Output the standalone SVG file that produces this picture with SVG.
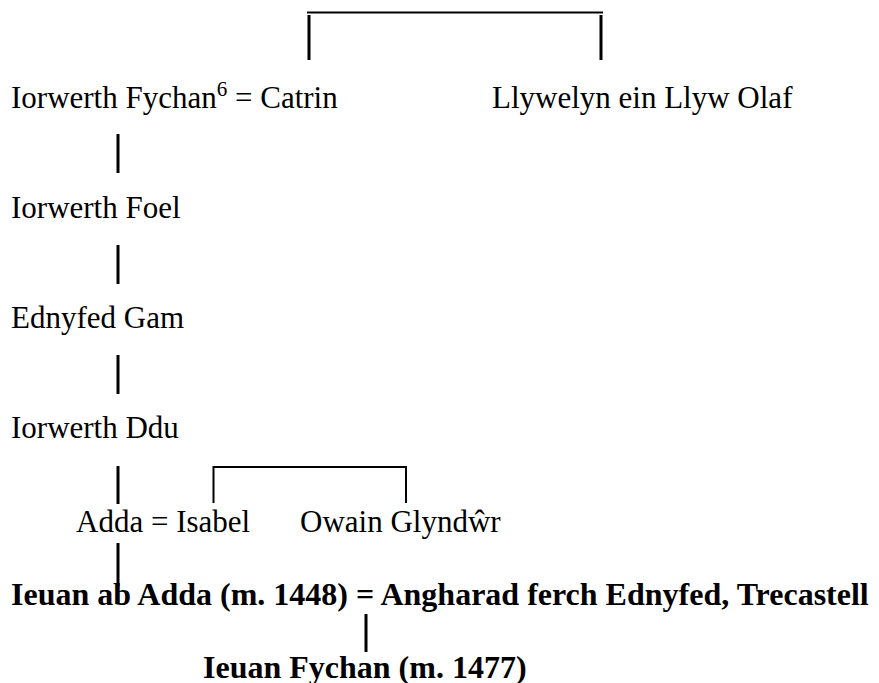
<svg xmlns="http://www.w3.org/2000/svg" width="879" height="683" viewBox="0 0 879 683">
<style>
text{font-family:"Liberation Serif","Times New Roman",serif;fill:#000}
.r{font-size:31px}
.b{font-size:32px;font-weight:bold}
.sup{font-size:21px}
.v{stroke:#000;stroke-width:3;fill:none}
.h{stroke:#000;stroke-width:2;fill:none}
</style>
<rect width="879" height="683" fill="#fff"/>
<g id="connectors">
<line class="h" x1="307" y1="12.5" x2="603" y2="12.5"/>
<line class="v" x1="309" y1="15" x2="309" y2="60"/>
<line class="v" x1="601" y1="15" x2="601" y2="60"/>
<line class="v" x1="118" y1="134" x2="118" y2="173"/>
<line class="v" x1="118" y1="245" x2="118" y2="284"/>
<line class="v" x1="118" y1="355" x2="118" y2="394"/>
<line class="v" x1="118" y1="466" x2="118" y2="504"/>
<path class="h" d="M213.5,503 V467 H406 V503"/>
<line class="v" x1="118" y1="543" x2="118" y2="586"/>
<line class="v" x1="366" y1="614" x2="366" y2="652"/>
</g>
<g id="n-iorwerth-fychan"><text class="r" x="11" y="108">Iorwerth Fychan<tspan class="sup" dy="-12">6</tspan><tspan dy="12"> = Catrin</tspan></text></g>
<g id="n-llywelyn"><text class="r" x="492" y="108">Llywelyn ein Llyw Olaf</text></g>
<g id="n-iorwerth-foel"><text class="r" x="11" y="218">Iorwerth Foel</text></g>
<g id="n-ednyfed-gam"><text class="r" x="11" y="328">Ednyfed Gam</text></g>
<g id="n-iorwerth-ddu"><text class="r" x="11" y="438">Iorwerth Ddu</text></g>
<g id="n-adda"><text class="r" x="76" y="532">Adda = Isabel</text></g>
<g id="n-owain"><text class="r" x="300" y="532">Owain Glyndŵr</text></g>
<g id="n-ieuan"><text class="b" x="11" y="605">Ieuan ab Adda (m. 1448) = Angharad ferch Ednyfed, Trecastell</text></g>
<g id="n-ieuan-fychan"><text class="b" x="203" y="678">Ieuan Fychan (m. 1477)</text></g>
</svg>
